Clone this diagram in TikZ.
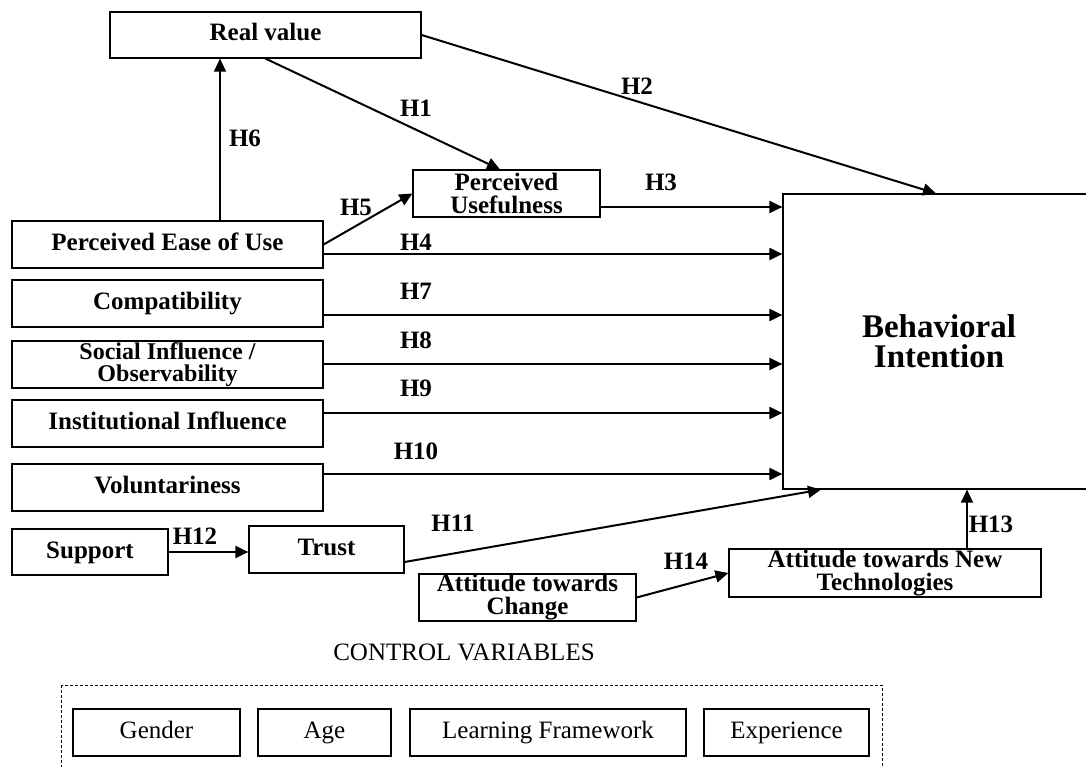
\documentclass[tikz,border=0pt]{standalone}
\usepackage{fontspec}
\setmainfont{Liberation Serif}
\usetikzlibrary{arrows.meta}
\begin{document}
\begin{tikzpicture}[x=1pt,y=-1pt,
  box/.style={draw, line width=1.2pt, inner sep=0pt, align=center,
    font=\fontsize{25}{23}\selectfont\bfseries},
  one/.style={text height=17pt, text depth=5pt},
  lbox/.style={box, minimum width=311pt, minimum height=47pt},
  arr/.style={line width=2pt, -{Triangle[length=13pt,width=12pt]}},
  lab/.style={inner sep=0pt, font=\fontsize{25}{25}\selectfont\bfseries},
  cbox/.style={draw, line width=1.2pt, inner sep=0pt, minimum height=47pt, one,
    font=\fontsize{25}{25}\selectfont}]
\useasboundingbox (0,0) rectangle (1086,767);
\clip (0,0) rectangle (1086,767);

% helper positions
\coordinate (x220) at (220,0);
\coordinate (x500) at (500,0);
\coordinate (x821) at (821,0);
\coordinate (x967) at (967,0);
\coordinate (y207) at (0,207);
\coordinate (y254) at (0,254);
\coordinate (y315) at (0,315);
\coordinate (y364) at (0,364);
\coordinate (y413) at (0,413);
\coordinate (y474) at (0,474);
\coordinate (y562) at (0,562);

% nodes
\node[box, one, minimum width=311pt, minimum height=46pt] (rv) at (265.5,35) {Real value};
\node[box, minimum width=187pt, minimum height=47pt] (pu) at (506.5,193.5) {Perceived\\Usefulness};
\node[lbox, one] (peou) at (167.5,244.5) {Perceived Ease of Use};
\node[lbox, one] (comp) at (167.5,303.5) {Compatibility};
\node[lbox, font=\fontsize{24}{22.5}\selectfont\bfseries] (soc) at (167.5,364.5) {Social Influence /\\Observability};
\node[lbox, one] (inst) at (167.5,423.5) {Institutional Influence};
\node[lbox, one] (vol) at (167.5,487.5) {Voluntariness};
\node[box, one, minimum width=156pt, minimum height=46pt] (sup) at (90,552) {Support};
\node[box, one, minimum width=155pt, minimum height=47pt] (trust) at (326.5,549.5) {Trust};
\node[box, minimum width=217pt, minimum height=47pt] (atc) at (527.5,597.5) {Attitude towards\\Change};
\node[box, minimum width=312pt, minimum height=48pt, font=\fontsize{25}{23}\selectfont\bfseries] (atnt) at (885,573) {Attitude towards New\\Technologies};
\node[box, minimum width=312pt, minimum height=295pt, font=\fontsize{33}{30}\selectfont\bfseries] (bi) at (939,341.5) {Behavioral\\Intention};

% control variables
\node[inner sep=0pt, font=\fontsize{25}{25}\selectfont] (cv) at (464,652) {CONTROL VARIABLES};
\draw[line width=1pt, dash pattern=on 3pt off 2pt] (61,685) rectangle (882,800);
\node[cbox, minimum width=167pt] (gender) at (156.5,732.5) {Gender};
\node[cbox, minimum width=133pt] (age) at (324.5,732.5) {Age};
\node[cbox, minimum width=276pt] (lf) at (548,732.5) {Learning Framework};
\node[cbox, minimum width=165pt] (exp) at (786.5,732.5) {Experience};

% connectors
\draw[arr, line width=1.5pt] (peou.north -| x220) -- (rv.south -| x220);
\draw[arr] (rv.south) -- (pu.north -| x500);
\draw[arr] (rv.east) -- ([xshift=-3pt]bi.north);
\draw[arr] (peou.east) -- (pu.west);
\draw[arr] (pu.east |- y207) -- (bi.west |- y207);
\draw[arr] (peou.east |- y254) -- (bi.west |- y254);
\draw[arr] (comp.east |- y315) -- (bi.west |- y315);
\draw[arr] (soc.east |- y364) -- (bi.west |- y364);
\draw[arr] (inst.east |- y413) -- (bi.west |- y413);
\draw[arr] (vol.east |- y474) -- (bi.west |- y474);
\draw[arr] (trust.east |- y562) -- (bi.south -| x821);
\draw[arr] (sup.east) -- (trust.west |- sup.east);
\draw[arr] (atc.east) -- (atnt.west);
\draw[arr, line width=1.3pt] (atnt.north -| x967) -- (bi.south -| x967);

% labels
\node[lab] (h1) at (416,108) {H1};
\node[lab] (h2) at (637,86) {H2};
\node[lab] (h3) at (661,182) {H3};
\node[lab] (h4) at (416,242) {H4};
\node[lab] (h5) at (356,207) {H5};
\node[lab] (h6) at (245,138) {H6};
\node[lab] (h7) at (416,291) {H7};
\node[lab] (h8) at (416,340) {H8};
\node[lab] (h9) at (416,388) {H9};
\node[lab] (h10) at (416,451) {H10};
\node[lab] (h11) at (453,523) {H11};
\node[lab] (h12) at (195,536) {H12};
\node[lab] (h13) at (991,524) {H13};
\node[lab] (h14) at (686,561) {H14};
\end{tikzpicture}
\end{document}
